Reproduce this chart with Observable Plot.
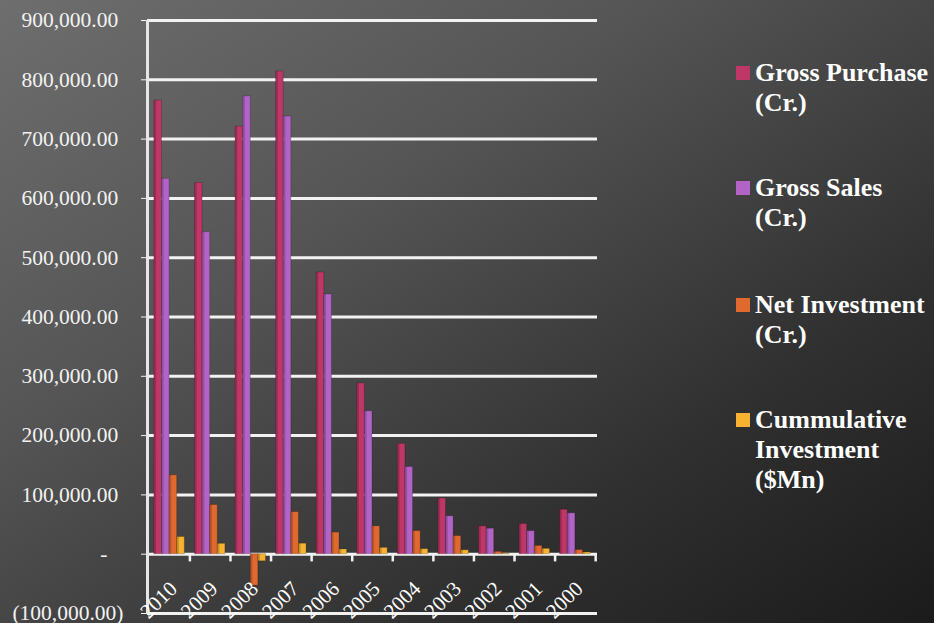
<!DOCTYPE html>
<html>
<head>
<meta charset="utf-8">
<script src="https://cdn.jsdelivr.net/npm/d3@7"></script>
<script src="https://cdn.jsdelivr.net/npm/@observablehq/plot@0.6"></script>
<style>
  html, body { margin: 0; padding: 0; }
  body {
    width: 934px; height: 623px; overflow: hidden; position: relative;
    background: linear-gradient(to bottom right, #6e6e6e 0%, #555 35%, #303030 72%, #1b1b1b 100%);
    font-family: "Liberation Serif", "Times New Roman", serif;
  }
  #chart { position: absolute; left: 0; top: 0; }
  #legend { position: absolute; left: 736px; top: 0; color: #fff; font-weight: bold; font-size: 26px; line-height: 30px; }
  .item { position: absolute; left: 0; white-space: nowrap; }
  .swatch { position: absolute; left: 0; top: 8px; width: 14px; height: 14px; }
  .label { position: absolute; left: 19px; top: 0; }
</style>
</head>
<body>
<div id="chart"></div>
<div id="legend"></div>
<script>
// FII flows by calendar year
const years = ["2010", "2009", "2008", "2007", "2006", "2005", "2004", "2003", "2002", "2001", "2000"];
const legendLabels = [
  ["Gross Purchase", "(Cr.)"],
  ["Gross Sales", "(Cr.)"],
  ["Net Investment", "(Cr.)"],
  ["Cummulative", "Investment", "($Mn)"]
];
const seriesNames = legendLabels.map(lines => lines.join(" "));
const grossPurchase = [765000, 626000, 721000, 814000, 475000, 288000, 186000, 94000, 47000, 51000, 75000];
const grossSales    = [633000, 543000, 772000, 738000, 438000, 241000, 147000, 64000, 43000, 39000, 69000];
const netInvestment = [133000, 83000, -53000, 71000, 36500, 47000, 39000, 30500, 4000, 14000, 7000];
const cumulativeInv = [29000, 17500, -12000, 17700, 8000, 10700, 8500, 6600, 1500, 9000, 3000];
const seriesColors  = ["#be3766", "#b263c6", "#e0692f", "#f6b230"];
const yTicks = [-100000, 0, 100000, 200000, 300000, 400000, 500000, 600000, 700000, 800000, 900000];

const seriesValues = [grossPurchase, grossSales, netInvestment, cumulativeInv];
const rows = years.flatMap((year, i) =>
  seriesNames.map((series, s) => ({year, series, index: s, value: seriesValues[s][i]}))
);

// Plot frame and year-band geometry; each year band holds four side-by-side bars
const width = 934, height = 623;
const marginLeft = 147, marginRight = 337;
const padInner = 0.25, padOuter = 0.17;
const step = (width - marginLeft - marginRight) / (years.length - padInner + 2 * padOuter);
const bandWidth = step * (1 - padInner);
const slot = bandWidth / seriesNames.length;
const last = seriesNames.length - 1;

const fmt = d3.format(",.2f");
const tickLabel = v => v === 0 ? "-\u00a0\u00a0\u00a0" : v < 0 ? `(${fmt(-v)})` : fmt(v) + "\u00a0";
const white = "#f2f2f2";

const chart = Plot.plot({
  width, height,
  marginLeft, marginRight,
  marginTop: 20,
  marginBottom: 10,
  style: {background: "transparent", color: white, fontFamily: "'Liberation Serif', serif", fontSize: "21px", overflow: "visible"},
  x: {domain: years, paddingInner: padInner, paddingOuter: padOuter, round: false, axis: null},
  y: {domain: [-100000, 900000], label: null},
  marks: [
    Plot.axisY({ticks: yTicks, tickFormat: tickLabel, tickSize: 6, tickPadding: 18, fontSize: 21.5, label: null, stroke: white, fill: white}),
    // back-wall gridlines and floor edge
    Plot.ruleY(yTicks, {stroke: white, strokeWidth: 3}),
    // vertical axis line at the left edge of the frame
    Plot.ruleX([years[0]], {x: d => d, y1: () => -100000, y2: () => 900000, dx: -(bandWidth / 2 + padOuter * step), stroke: "#e6e6e6", strokeWidth: 3}),
    // category ticks between year groups
    Plot.ruleX(years, {x: d => d, y1: () => 0, y2: () => -13000, dx: step / 2, stroke: white, strokeWidth: 2.5}),
    // one bar per series inside each year band
    ...seriesNames.map((name, s) =>
      Plot.barY(rows.filter(r => r.index === s), {
        x: "year", y: "value",
        fill: seriesColors[s],
        insetLeft: s * slot,
        insetRight: (last - s) * slot,
        stroke: "#000", strokeOpacity: 0.2, strokeWidth: 1
      })
    ),
    // shaded left side of each bar
    ...seriesNames.map((name, s) =>
      Plot.barY(rows.filter(r => r.index === s), {
        x: "year", y: "value",
        fill: "#000", fillOpacity: 0.18,
        insetLeft: s * slot,
        insetRight: (last - s) * slot + slot - 2.2
      })
    ),
    Plot.text(years, {x: d => d, y: () => 0, text: d => d, rotate: -45, textAnchor: "end", dx: 4, dy: 31, fontSize: 21, fill: "#ffffff"})
  ]
});
document.getElementById("chart").appendChild(chart);

// Legend to the right of the plot
const itemTops = [58, 173, 290, 405];
const legend = document.getElementById("legend");
legendLabels.forEach((lines, i) => {
  const item = document.createElement("div");
  item.className = "item";
  item.style.top = itemTops[i] + "px";
  const sw = document.createElement("div");
  sw.className = "swatch";
  sw.style.background = seriesColors[i];
  const label = document.createElement("div");
  label.className = "label";
  label.innerHTML = lines.join("<br>");
  item.appendChild(sw);
  item.appendChild(label);
  legend.appendChild(item);
});
</script>
</body>
</html>
